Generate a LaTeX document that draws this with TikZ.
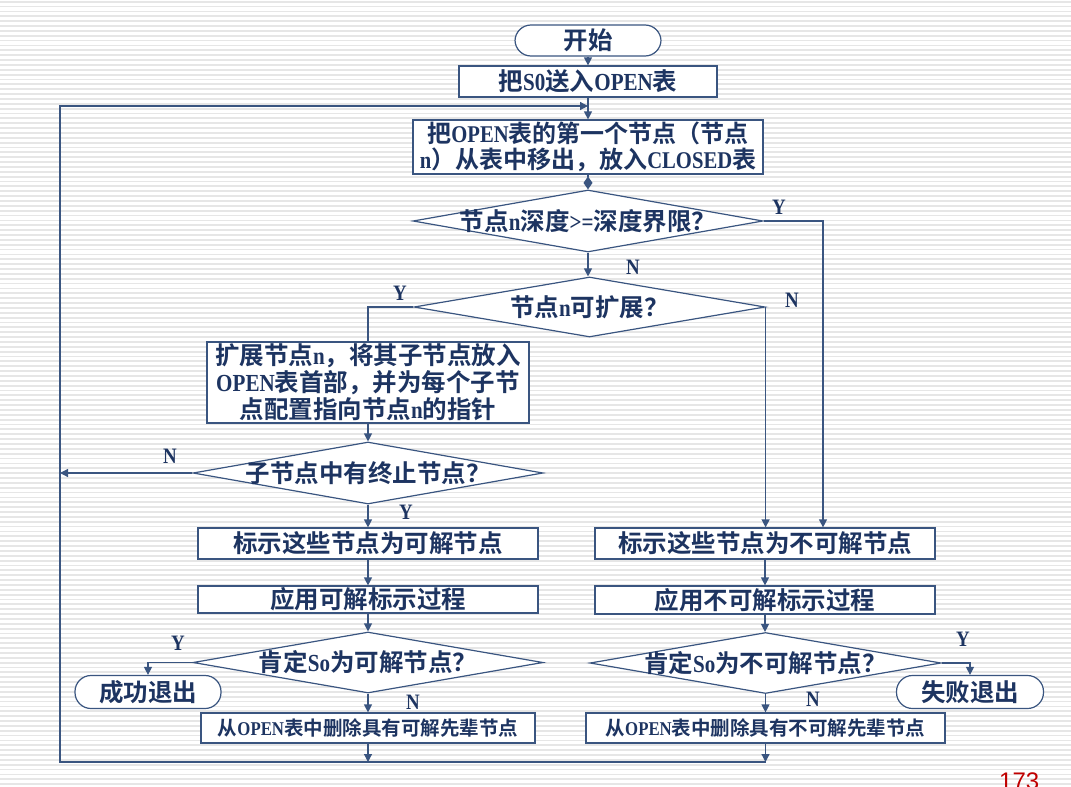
\documentclass[tikz,border=0pt]{standalone}
\usepackage{fontspec}
\newfontfamily\cjkfont{Noto Sans CJK SC Bold}
\newfontfamily\latfont{Liberation Serif Bold}[FakeStretch=0.86]
\newfontfamily\pagefont{Liberation Sans}
\newcommand\latn[1]{{\latfont #1}}
\usetikzlibrary{shapes.geometric,arrows.meta}
\definecolor{ink}{HTML}{1D3461}
\definecolor{edgec}{HTML}{3A5580}
\definecolor{stripe}{HTML}{E6E6E6}
\definecolor{pagered}{HTML}{C00000}
\tikzset{
  box/.style={draw=edgec, line width=1.2pt, fill=white, text=ink, inner sep=0pt,
    align=center, font=\cjkfont\fontsize{24.5}{27}\selectfont},
  smallbox/.style={box, font=\cjkfont\fontsize{19.5}{23}\selectfont},
  term/.style={box, rounded corners=16pt},
  dia/.style={draw=edgec, line width=1.2pt, fill=white, shape=diamond, inner sep=0pt},
  dtext/.style={text=ink, inner sep=0pt, font=\cjkfont\fontsize{24.5}{27}\selectfont},
  lab/.style={text=ink, inner sep=0pt, font=\latfont\fontsize{22}{24}\selectfont},
  line/.style={draw=edgec, line width=1.2pt},
  arr/.style={line, -{Triangle[length=8pt,width=8pt]}},
  darr/.style={line, -{Diamond[length=13pt,width=9pt]}}
}
\begin{document}
\begin{tikzpicture}[x=1pt,y=-1pt]
\useasboundingbox (0,0) rectangle (1071,787);
\fill[white] (0,0) rectangle (1071,787);
\foreach \i in {0,...,162} \fill[stripe] (0,\i*4.86+0.8) rectangle (1071,\i*4.86+2.6);

% left column / centre
\node[term, minimum width=146, minimum height=31] (start) at (588,40.5) {开始};
\node[box, minimum width=258, minimum height=31] (b1) at (588,81.5) {把\latn{S0}送入\latn{OPEN}表};
\node[box, minimum width=350, minimum height=54, font=\cjkfont\fontsize{24}{26}\selectfont] (b2) at (588,147) {把\latn{OPEN}表的第一个节点（节点\\\latn{n}）从表中移出，放入\latn{CLOSED}表};
\node[dia, minimum width=350, minimum height=62] (d1) at (588,221) {};
\node[dtext] (d1t) at (588,221) {节点\latn{n}深度\latn{>=}深度界限？};
\node[dia, minimum width=351, minimum height=60] (d2) at (589.5,307) {};
\node[dtext] (d2t) at (589.5,307) {节点\latn{n}可扩展？};
\node[box, minimum width=322, minimum height=81] (b3) at (368,382.5) {扩展节点\latn{n}，将其子节点放入\\\latn{OPEN}表首部，并为每个子节\\点配置指向节点\latn{n}的指针};
\node[dia, minimum width=350, minimum height=62] (d3) at (368,473) {};
\node[dtext] (d3t) at (368,473) {子节点中有终止节点？};
\node[box, minimum width=340, minimum height=31] (b4) at (368,543.5) {标示这些节点为可解节点};
\node[box, minimum width=340, minimum height=27] (b5) at (368,599.5) {应用可解标示过程};
\node[dia, minimum width=350, minimum height=61] (d4) at (368,662.5) {};
\node[dtext] (d4t) at (368,662.5) {肯定\latn{So}为可解节点？};
\node[term, minimum width=146, minimum height=33] (t1) at (148,692) {成功退出};
\node[smallbox, minimum width=334, minimum height=30] (b6) at (368,728) {从\latn{OPEN}表中删除具有可解先辈节点};

% right column
\node[box, minimum width=340, minimum height=31] (b4r) at (765,543.5) {标示这些节点为不可解节点};
\node[box, minimum width=340, minimum height=28] (b5r) at (765,600) {应用不可解标示过程};
\node[dia, minimum width=351, minimum height=61] (d5) at (765.5,663) {};
\node[dtext] (d5t) at (765.5,663) {肯定\latn{So}为不可解节点？};
\node[term, minimum width=147, minimum height=33] (t2) at (970,692) {失败退出};
\node[smallbox, minimum width=359, minimum height=30] (b6r) at (765.5,728) {从\latn{OPEN}表中删除具有不可解先辈节点};

% helper coordinates
\coordinate (bl) at (60,762);
\coordinate (tl) at (60,106);
\coordinate (yr) at (823,221);

% connectors
\draw[arr] (start) -- (b1);
\draw[arr] (b1) -- (b2);
\draw[darr] (b2.south) -- (d1.north);
\draw[arr] (d1.south) -- (d1.south |- d2.north);
\draw[arr] (d1.east) -| (yr |- b4r.north);
\draw[arr] (d2.east) -- (d2.east |- b4r.north);
\draw[line] (d2.west) -| (b3.north);
\draw[arr] (b3) -- (d3);
\draw[arr] (d3.west) -- (d3.west -| tl);
\draw[arr] (d3) -- (b4);
\draw[arr] (b4) -- (b5);
\draw[arr] (b5) -- (d4);
\draw[arr] (d4.west) -| (t1.north);
\draw[arr] (d4) -- (b6);
\draw[arr] (b6.south) -- (b6.south |- bl);
\draw[arr] (b4r) -- (b5r);
\draw[arr] (b5r.south) -- (b5r.south |- d5.north);
\draw[arr] (d5.east) -| (t2.north);
\draw[arr] (d5.south) -- (d5.south |- b6r.north);
\draw[arr] (b6r.south) -- (b6r.south |- bl);
\draw[arr] (b6r.south |- bl) -- (bl) -- (tl) -- (tl -| b2.north);

% labels
\node[lab] (l1) at (779,207) {Y};
\node[lab] (l2) at (633,267) {N};
\node[lab] (l3) at (400,293) {Y};
\node[lab] (l4) at (792,300) {N};
\node[lab] (l5) at (170,456) {N};
\node[lab] (l6) at (406,512) {Y};
\node[lab] (l7) at (178,643) {Y};
\node[lab] (l8) at (413,702) {N};
\node[lab] (l9) at (963,639) {Y};
\node[lab] (l10) at (813,699) {N};

\node[anchor=base west, inner sep=0pt, text=pagered, font=\pagefont\fontsize{24}{26}\selectfont] (pg) at (999,789) {173};
\end{tikzpicture}
\end{document}
